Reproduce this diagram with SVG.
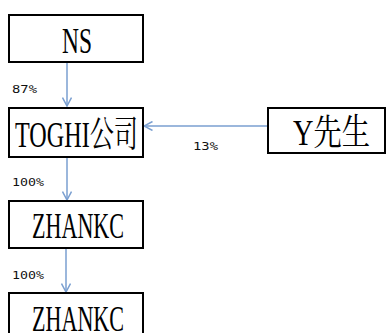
<svg xmlns="http://www.w3.org/2000/svg" width="390" height="333" viewBox="0 0 390 333">
<style>
.box{fill:#fff;stroke:#000;stroke-width:2}
.t{font-family:"Liberation Serif","Noto Serif CJK SC","Noto Sans CJK SC",serif;font-size:36px;fill:#000}
.p{font-family:"DejaVu Sans Mono","Liberation Mono",monospace;font-size:10px;fill:#111}
.c{stroke:#7a9fd0;stroke-width:1.5;fill:none}
</style>
<defs>
<marker id="ah" viewBox="0 0 10 10" refX="9.5" refY="5" markerWidth="10" markerHeight="10" markerUnits="userSpaceOnUse" orient="auto">
<path d="M1,0.5 L9.5,5 L1,9.5" fill="none" stroke="#7a9fd0" stroke-width="1.5"/>
</marker>
</defs>
<rect width="390" height="333" fill="#fff"/>
<g id="connectors">
<line class="c" x1="67" y1="62" x2="67" y2="106" marker-end="url(#ah)"/>
<line class="c" x1="67" y1="157" x2="67" y2="200" marker-end="url(#ah)"/>
<line class="c" x1="66" y1="248" x2="66" y2="292" marker-end="url(#ah)"/>
<line class="c" x1="268" y1="126" x2="144" y2="126" marker-end="url(#ah)"/>
<text class="p" x="12" y="93" textLength="25" lengthAdjust="spacingAndGlyphs">87%</text>
<text class="p" x="12" y="186" textLength="32" lengthAdjust="spacingAndGlyphs">100%</text>
<text class="p" x="12" y="279" textLength="32" lengthAdjust="spacingAndGlyphs">100%</text>
<text class="p" x="193" y="150" textLength="25" lengthAdjust="spacingAndGlyphs">13%</text>
</g>
<g id="ns">
<rect class="box" x="9" y="15" width="134" height="47"/>
<text class="t" x="62" y="53" textLength="30" lengthAdjust="spacingAndGlyphs">NS</text>
</g>
<g id="toghi">
<rect class="box" x="9" y="108" width="134" height="49"/>
<text class="t" x="15" y="147" textLength="123" lengthAdjust="spacingAndGlyphs">TOGHI公司</text>
</g>
<g id="y">
<rect class="box" x="268" y="108" width="117" height="45"/>
<text class="t" x="293" y="145" textLength="77" lengthAdjust="spacingAndGlyphs">Y先生</text>
</g>
<g id="zhankc1">
<rect class="box" x="9" y="201" width="134" height="47"/>
<text class="t" x="32" y="238" textLength="92" lengthAdjust="spacingAndGlyphs">ZHANKC</text>
</g>
<g id="zhankc2">
<rect class="box" x="9" y="293" width="134" height="50"/>
<text class="t" x="32" y="331" textLength="92" lengthAdjust="spacingAndGlyphs">ZHANKC</text>
</g>
</svg>
